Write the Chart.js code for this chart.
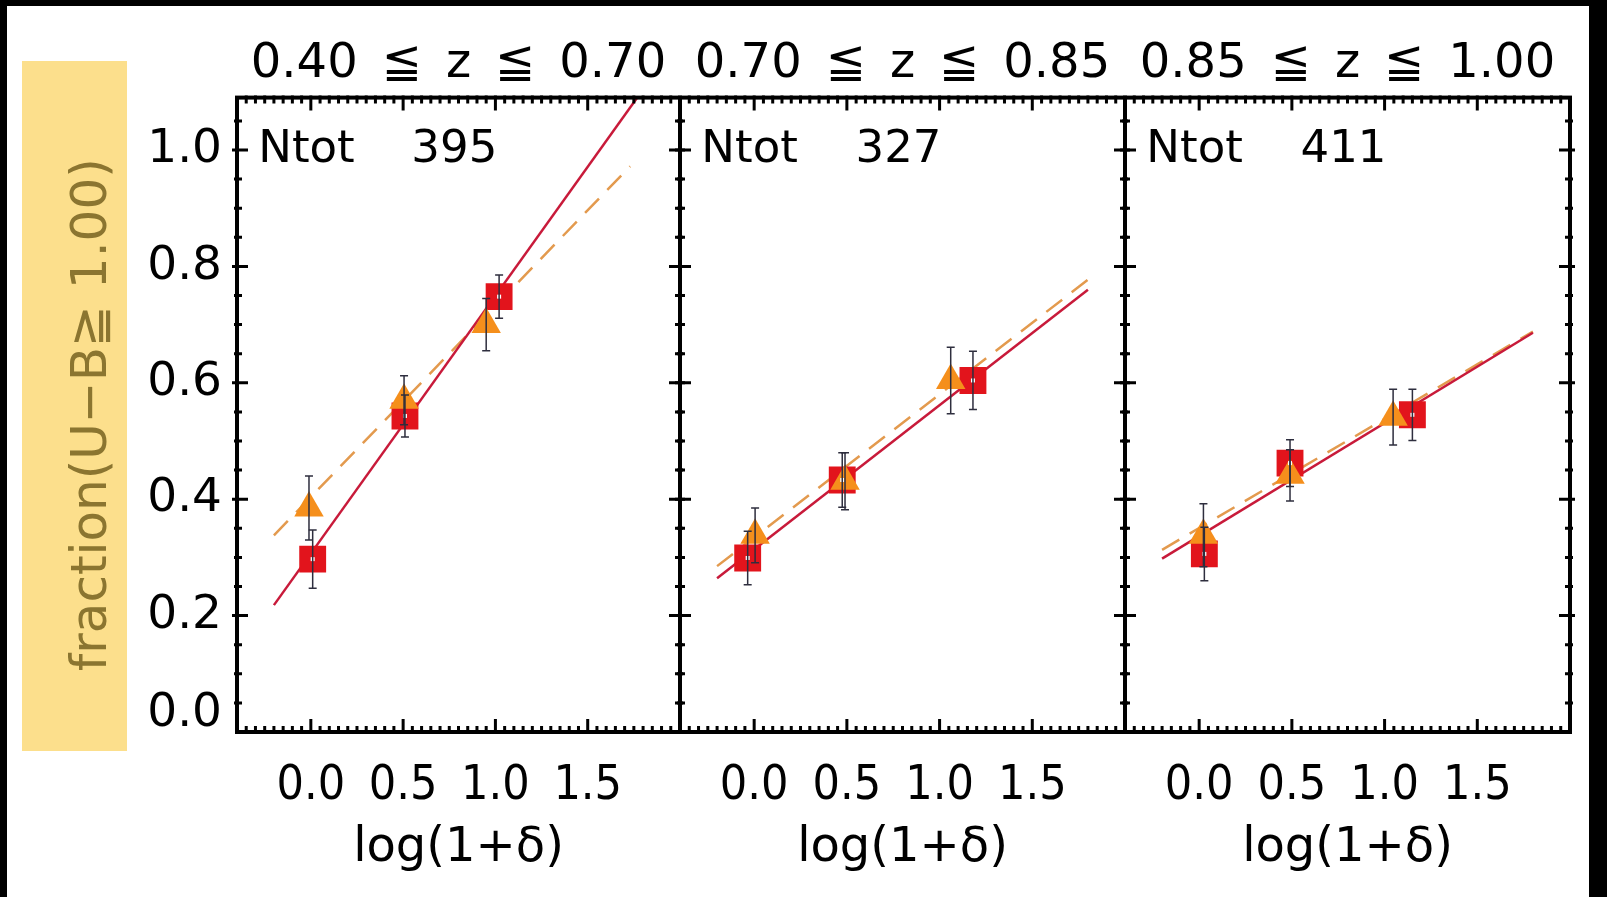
<!DOCTYPE html>
<html>
<head>
<meta charset="utf-8">
<script src="https://cdn.jsdelivr.net/npm/chart.js@4.4.1/dist/chart.umd.min.js"></script>
<style>
    body { margin: 0; background: #000; }
    #page { position: absolute; left: 7px; top: 6px; width: 1582px; height: 891px; background: #fff; }
    #ylabelBox { position: absolute; left: 22px; top: 61px; width: 105px; height: 690px; background: #fcdf8c; }
    canvas { position: absolute; top: 0; }
</style>
</head>
<body>
<div id="page"></div>
<div id="ylabelBox"></div>
<canvas id="panel1" width="700" height="897" style="left:0px"></canvas>
<canvas id="panel2" width="505" height="897" style="left:640px"></canvas>
<canvas id="panel3" width="505" height="897" style="left:1085px"></canvas>
<script>
const panelTitles = ["0.40\u2002≦\u2002z\u2002≦\u20020.70", "0.70\u2002≦\u2002z\u2002≦\u20020.85", "0.85\u2002≦\u2002z\u2002≦\u20021.00"];
const nTot = [395, 327, 411];

// red squares, one row per panel
const squareX = [[0.01, 0.51, 1.02], [-0.035, 0.475, 1.18], [0.028, 0.49, 1.15]];
const squareY = [[0.297, 0.543, 0.748], [0.299, 0.433, 0.604], [0.306, 0.462, 0.545]];
const squareErr = [[0.050, 0.036, 0.037], [0.046, 0.047, 0.050], [0.046, 0.040, 0.044]];

// orange triangles
const triX = [[-0.01, 0.505, 0.95], [0.005, 0.49, 1.06], [0.023, 0.49, 1.046]];
const triY = [[0.385, 0.570, 0.700], [0.338, 0.431, 0.604], [0.338, 0.441, 0.541]];
const triErr = [[0.055, 0.042, 0.045], [0.047, 0.049, 0.057], [0.054, 0.044, 0.048]];

// fit lines as [x0, y0, x1, y1]
const redFit = [[-0.2, 0.218, 1.8, 1.104], [-0.2, 0.264, 1.8, 0.760], [-0.2, 0.298, 1.8, 0.686]];
const orangeFit = [[-0.2, 0.338, 1.73, 0.972], [-0.2, 0.285, 1.8, 0.777], [-0.2, 0.313, 1.8, 0.688]];

const xTicks = [0.0, 0.5, 1.0, 1.5];
const yTicks = [0.0, 0.2, 0.4, 0.6, 0.8, 1.0];

Chart.defaults.font.family = "'DejaVu Sans', sans-serif";
Chart.defaults.color = "#000";

function toPoints(xs, ys) {
    return xs.map((v, i) => ({ x: v, y: ys[i] }));
}

// IDL style box: frame, inward ticks, error bars and the Ntot label
const idlFrame = {
    id: "idlFrame",
    afterDatasetsDraw(chart, args, opts) {
        const { ctx, chartArea: a } = chart;
        const x = chart.scales.x;
        const y = chart.scales.y;
        const p = opts.panel;
        ctx.save();

        // little white dot in the middle of the squares
        ctx.fillStyle = "#fff";
        squareX[p].forEach((v, i) => {
            ctx.fillRect(x.getPixelForValue(v) - 2, y.getPixelForValue(squareY[p][i]) - 2, 4, 4);
        });

        ctx.strokeStyle = "#2e2e3e";
        ctx.lineWidth = 1.5;
        const bars = (xs, ys, es) => xs.forEach((xv, i) => {
            const px = x.getPixelForValue(xv);
            const top = y.getPixelForValue(ys[i] + es[i]);
            const bot = y.getPixelForValue(ys[i] - es[i]);
            ctx.beginPath();
            ctx.moveTo(px, top); ctx.lineTo(px, bot);
            ctx.moveTo(px - 4, top); ctx.lineTo(px + 4, top);
            ctx.moveTo(px - 4, bot); ctx.lineTo(px + 4, bot);
            ctx.stroke();
        });
        bars(squareX[p], squareY[p], squareErr[p]);
        bars(triX[p], triY[p], triErr[p]);

        // frame
        ctx.strokeStyle = "#000";
        ctx.lineWidth = 4;
        ctx.strokeRect(a.left, a.top, a.right - a.left, a.bottom - a.top);

        // ticks
        ctx.lineWidth = 3;
        ctx.beginPath();
        for (let k = -7; k <= 39; k++) {
            const major = k % 10 === 0;
            const px = x.getPixelForValue(k * 0.05);
            const len = major ? 13 : 6;
            ctx.moveTo(px, a.bottom + 2); ctx.lineTo(px, a.bottom - len);
            ctx.moveTo(px, a.top - 2); ctx.lineTo(px, a.top + len);
        }
        for (let k = 1; k <= 21; k++) {
            const major = k % 4 === 0;
            const py = y.getPixelForValue(k * 0.05);
            const inner = major ? 11 : 5;
            const outer = major ? 5 : 3;
            ctx.moveTo(a.left - outer, py); ctx.lineTo(a.left + inner, py);
            ctx.moveTo(a.right + outer, py); ctx.lineTo(a.right - inner, py);
        }
        ctx.stroke();

        // Ntot label
        ctx.fillStyle = "#000";
        ctx.font = "45px 'DejaVu Sans'";
        ctx.textBaseline = "middle";
        ctx.textAlign = "left";
        ctx.fillText("Ntot", x.getPixelForValue(-0.285), y.getPixelForValue(1.0));
        ctx.textAlign = "right";
        ctx.fillText(String(nTot[p]), x.getPixelForValue(1.01), y.getPixelForValue(1.0));
        ctx.restore();
    }
};

function makePanel(p) {
    const first = p === 0;
    return new Chart(document.getElementById("panel" + (p + 1)), {
        type: "scatter",
        data: {
            datasets: [
                {
                    data: toPoints(triX[p], triY[p]),
                    pointStyle: "triangle",
                    pointRadius: 17,
                    backgroundColor: "#f58f1c",
                    borderColor: "#f58f1c",
                    borderWidth: 0
                },
                {
                    data: toPoints(squareX[p], squareY[p]),
                    pointStyle: "rect",
                    pointRadius: 19,
                    backgroundColor: "#e2141c",
                    borderColor: "#e2141c",
                    borderWidth: 0
                },
                {
                    data: [{ x: redFit[p][0], y: redFit[p][1] }, { x: redFit[p][2], y: redFit[p][3] }],
                    showLine: true,
                    pointRadius: 0,
                    borderColor: "#c81a3a",
                    borderWidth: 2.5
                },
                {
                    data: [{ x: orangeFit[p][0], y: orangeFit[p][1] }, { x: orangeFit[p][2], y: orangeFit[p][3] }],
                    showLine: true,
                    pointRadius: 0,
                    borderColor: "#e39a4e",
                    borderWidth: 2.5,
                    borderDash: [20, 12]
                }
            ]
        },
        options: {
            responsive: false,
            animation: false,
            events: [],
            layout: { padding: { right: 20 } },
            plugins: {
                legend: { display: false },
                tooltip: { enabled: false },
                title: {
                    display: true,
                    text: panelTitles[p],
                    fullSize: false,
                    color: "#000",
                    font: { size: 48, weight: "normal" },
                    padding: { top: 36, bottom: 4 }
                },
                idlFrame: { panel: p }
            },
            scales: {
                x: {
                    type: "linear",
                    min: -0.4,
                    max: 2.0,
                    afterFit: s => { s.height = 165; },
                    afterBuildTicks: s => { s.ticks = xTicks.map(v => ({ value: v })); },
                    grid: { display: false, drawTicks: false },
                    border: { display: false },
                    ticks: {
                        padding: 26,
                        autoSkip: false,
                        minRotation: 0,
                        maxRotation: 0,
                        font: { family: "'DejaVu Sans Condensed', 'DejaVu Sans'", size: 48 },
                        callback: v => v.toFixed(1)
                    },
                    title: {
                        display: true,
                        text: "log(1+δ)",
                        font: { size: 48 },
                        padding: { top: 0, bottom: 20 }
                    }
                },
                y: {
                    min: 0,
                    max: 1.09,
                    afterFit: s => { s.width = first ? 237 : 40; },
                    afterBuildTicks: s => { s.ticks = yTicks.map(v => ({ value: v })); },
                    grid: { display: false, drawTicks: false },
                    border: { display: false },
                    ticks: {
                        display: first,
                        padding: 15,
                        font: c => (c.tick && c.tick.value === 0) ? { size: 47, lineHeight: 0.76 } : { size: 47 },
                        callback: v => v === 0 ? ["0.0", ""] : v.toFixed(1)
                    },
                    title: {
                        display: first,
                        text: "fraction(U−B≧ 1.00)",
                        color: "#8b7530",
                        font: { size: 50 },
                        padding: { top: 63, bottom: 0 }
                    }
                }
            }
        },
        plugins: [idlFrame]
    });
}

makePanel(0);
makePanel(1);
makePanel(2);
</script>
</body>
</html>
